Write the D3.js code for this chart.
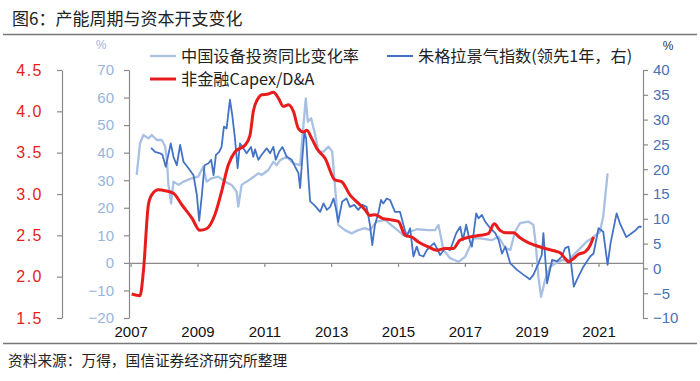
<!DOCTYPE html>
<html><head><meta charset="utf-8">
<script src="https://cdn.jsdelivr.net/npm/d3@7/dist/d3.min.js"></script>
<style>
html,body{margin:0;padding:0;background:#fff;}
svg{display:block;}
</style></head>
<body><svg id="c" width="700" height="381"></svg>
<script>
// ---------------- data ----------------
const yearTicks = [2007, 2009, 2011, 2013, 2015, 2017, 2019, 2021];
const leftTicks = [1.5, 2.0, 2.5, 3.0, 3.5, 4.0, 4.5];
const midTicks = [-20, -10, 0, 10, 20, 30, 40, 50, 60, 70];
const rightTicks = [-10, -5, 0, 5, 10, 15, 20, 25, 30, 35, 40];

// 非金融Capex/D&A (left axis)
const capexDates = [2007.03,2007.28,2007.38,2007.53,2007.63,2007.83,2008.03,2008.28,2008.53,2008.83,2009.07,2009.27,2009.52,2009.72,2009.92,2010.12,2010.42,2010.57,2010.67,2010.82,2010.92,2011.12,2011.27,2011.42,2011.57,2011.72,2011.87,2012.02,2012.17,2012.27,2012.42,2012.57,2012.82,2013.11,2013.31,2013.56,2013.81,2014.01,2014.16,2014.31,2014.56,2014.76,2015.01,2015.21,2015.41,2015.61,2015.91,2016.16,2016.41,2016.65,2016.85,2017.15,2017.45,2017.70,2017.88,2018.05,2018.25,2018.45,2018.65,2018.85,2019.10,2019.40,2019.70,2019.85,2020.00,2020.10,2020.25,2020.40,2020.60,2020.75,2020.85];
const capexValues = [1.79,1.77,2.06,2.87,2.99,3.05,3.04,3.01,2.87,2.71,2.56,2.58,2.75,3.03,3.35,3.51,3.59,3.71,4.00,4.16,4.20,4.21,4.23,4.16,4.06,4.08,4.00,3.79,3.75,3.77,3.67,3.55,3.43,3.17,3.15,2.99,2.89,2.81,2.74,2.75,2.70,2.69,2.67,2.50,2.48,2.42,2.36,2.32,2.34,2.34,2.44,2.48,2.50,2.52,2.64,2.56,2.53,2.53,2.47,2.42,2.38,2.34,2.31,2.29,2.22,2.18,2.22,2.27,2.30,2.38,2.48];

// 中国设备投资同比变化率 (middle axis, %)
const equipDates = [2007.18,2007.28,2007.38,2007.53,2007.63,2007.78,2007.93,2008.03,2008.08,2008.13,2008.21,2008.28,2008.43,2008.58,2008.83,2009.02,2009.17,2009.27,2009.42,2009.62,2009.82,2010.02,2010.17,2010.22,2010.32,2010.47,2010.62,2010.82,2010.92,2011.12,2011.27,2011.37,2011.47,2011.67,2011.87,2012.07,2012.17,2012.24,2012.30,2012.40,2012.52,2012.62,2012.77,2012.92,2013.03,2013.11,2013.21,2013.41,2013.61,2013.81,2014.01,2014.16,2014.36,2014.61,2014.91,2015.16,2015.36,2015.56,2015.91,2016.11,2016.21,2016.36,2016.56,2016.81,2017.01,2017.26,2017.46,2017.81,2018.01,2018.21,2018.36,2018.50,2018.65,2018.90,2019.05,2019.12,2019.20,2019.28,2019.40,2019.55,2019.70,2019.90,2020.10,2020.30,2020.50,2020.64,2020.84,2021.04,2021.14,2021.27];
const equipValues = [31.9,43.4,46.4,45.2,46.4,44.6,44.6,42.2,38.0,28.3,21.6,29.5,28.3,29.5,30.7,31.3,34.9,29.5,30.7,31.3,29.5,28.3,25.8,20.4,28.3,29.5,30.7,32.5,31.9,33.7,36.7,35.5,37.3,38.5,36.1,35.5,50.0,59.7,51.2,52.5,46.4,40.4,40.4,42.2,40.4,28.3,13.8,11.9,10.7,11.9,12.6,11.9,15.0,15.6,12.6,10.1,11.3,12.2,11.9,11.9,13.8,4.7,1.7,0.4,2.3,8.9,8.9,8.3,9.5,5.3,4.7,11.3,14.4,15.0,13.8,7.1,-5.0,-12.3,-6.2,-1.4,-0.2,1.0,1.0,3.5,5.9,7.7,9.3,11.3,16.8,32.5];

// 朱格拉景气指数(领先1年) (right axis, %)
const juglarDates = [2007.61,2007.73,2007.88,2007.95,2008.05,2008.20,2008.28,2008.38,2008.48,2008.58,2008.73,2008.88,2008.98,2009.05,2009.13,2009.21,2009.33,2009.41,2009.48,2009.55,2009.65,2009.72,2009.79,2009.87,2009.97,2010.04,2010.12,2010.20,2010.27,2010.37,2010.47,2010.60,2010.67,2010.72,2010.82,2010.92,2011.07,2011.17,2011.27,2011.34,2011.44,2011.54,2011.67,2011.82,2011.92,2012.02,2012.07,2012.12,2012.20,2012.25,2012.32,2012.37,2012.52,2012.67,2012.77,2012.87,2012.97,2013.07,2013.14,2013.21,2013.33,2013.46,2013.56,2013.69,2013.81,2013.93,2014.06,2014.16,2014.23,2014.31,2014.41,2014.49,2014.56,2014.66,2014.76,2014.91,2015.06,2015.16,2015.26,2015.36,2015.46,2015.56,2015.64,2015.76,2015.86,2015.96,2016.08,2016.16,2016.26,2016.41,2016.56,2016.74,2016.86,2016.94,2017.04,2017.14,2017.21,2017.34,2017.41,2017.51,2017.61,2017.76,2017.91,2018.01,2018.11,2018.21,2018.36,2018.56,2018.76,2018.94,2019.05,2019.20,2019.30,2019.35,2019.46,2019.61,2019.76,2019.90,2020.00,2020.10,2020.17,2020.26,2020.35,2020.55,2020.75,2020.85,2021.00,2021.14,2021.27,2021.36,2021.54,2021.64,2021.83,2021.99,2022.11,2022.21,2022.29];
const juglarValues = [24.3,23.5,23.2,22.9,20.5,25.2,22.5,20.8,24.9,21.5,20.2,18.8,14.8,9.6,14.8,20.8,21.2,21.9,18.8,22.9,23.5,24.5,28.6,28.2,34.0,30.9,26.2,20.2,25.2,24.2,23.2,24.5,22.5,24.0,21.9,22.9,24.2,23.2,24.5,21.9,23.5,24.5,22.5,21.9,20.5,19.2,16.2,20.8,27.6,26.2,18.2,13.5,12.6,11.4,13.1,11.8,12.4,14.1,12.1,9.4,13.5,14.1,12.4,12.8,11.8,12.8,12.4,8.8,4.7,8.8,11.1,13.8,13.1,14.1,13.8,11.4,11.4,8.8,6.4,8.1,2.4,4.4,2.7,2.4,3.7,4.4,5.1,4.1,2.7,4.1,3.7,7.1,8.4,5.7,8.8,5.7,4.4,11.1,10.1,10.8,9.4,8.1,7.1,5.7,3.0,4.4,1.0,-0.3,-1.3,-2.2,-1.3,1.0,2.7,7.1,-3.0,1.7,1.4,2.4,4.1,4.4,1.5,-3.7,-2.3,0.4,2.4,3.0,8.1,7.4,0.7,5.1,11.1,9.1,6.3,7.1,7.7,8.4,8.4];

const legendLabels = ["中国设备投资同比变化率", "朱格拉景气指数(领先1年，右)", "非金融Capex/D&A"];

// ---------------- layout ----------------
const svg = d3.select("#c");
const plotL = 129, plotR = 643, plotT = 70, plotB = 318;
const cRed = "#e81c1c", cLight = "#a8c0e4", cBlue = "#4472c4", cAxis = "#8a8a8a";
const cMidTxt = "#9ab4db", cRightTxt = "#4a70b5";
const numFont = "'Liberation Sans', Arial, sans-serif";
const cjkFont = "'Noto Sans CJK SC', 'Noto Sans', sans-serif";

const x = d3.scaleLinear().domain([2006.95, 2022.33]).range([plotL, plotR]);
const yL = d3.scaleLinear().domain([1.5, 4.5]).range([plotB, plotT]);
const yM = d3.scaleLinear().domain([-20, 70]).range([plotB, plotT]);
const yR = d3.scaleLinear().domain([-10, 40]).range([plotB, plotT]);

// title & frame lines
svg.append("text").attr("x", 12).attr("y", 25).attr("font-family", cjkFont)
  .attr("font-size", 17).attr("fill", "#222").text("图6：产能周期与资本开支变化");
svg.append("line").attr("x1", 3).attr("x2", 697).attr("y1", 34.5).attr("y2", 34.5)
  .attr("stroke", "#777").attr("stroke-width", 1.5);
svg.append("line").attr("x1", 3).attr("x2", 697).attr("y1", 343.5).attr("y2", 343.5)
  .attr("stroke", "#777").attr("stroke-width", 1.5);
svg.append("text").attr("x", 8).attr("y", 366).attr("font-family", cjkFont)
  .attr("font-size", 14.7).attr("fill", "#222").text("资料来源：万得，国信证券经济研究所整理");

function styleAxis(g, color, size, font) {
  g.selectAll(".domain").attr("stroke", cAxis).attr("stroke-width", 1.2);
  g.selectAll(".tick line").attr("stroke", cAxis).attr("stroke-width", 1.2);
  g.selectAll(".tick text").attr("fill", color).attr("font-size", size).attr("font-family", font);
}

// left red axis
const gL = svg.append("g").attr("transform", "translate(62,0)")
  .call(d3.axisLeft(yL).tickValues(leftTicks).tickFormat(d3.format(".1f")).tickSize(5).tickSizeOuter(0).tickPadding(14));
styleAxis(gL, cRed, 16, numFont);
gL.selectAll(".tick text").attr("letter-spacing", 1.5);

// middle axis
const gM = svg.append("g").attr("transform", `translate(${plotL},0)`)
  .call(d3.axisLeft(yM).tickValues(midTicks).tickSize(5).tickSizeOuter(0).tickPadding(10));
styleAxis(gM, cMidTxt, 15, numFont);
svg.append("text").attr("x", 101).attr("y", 49).attr("text-anchor", "middle")
  .attr("font-family", numFont).attr("font-size", 12).attr("fill", cMidTxt).text("%");

// right axis
const gR = svg.append("g").attr("transform", `translate(${plotR},0)`)
  .call(d3.axisRight(yR).tickValues(rightTicks).tickSize(5).tickSizeOuter(0).tickPadding(5));
styleAxis(gR, cRightTxt, 15, numFont);
svg.append("text").attr("x", 668).attr("y", 50).attr("text-anchor", "middle")
  .attr("font-family", numFont).attr("font-size", 12).attr("fill", "#333").text("%");

// zero line with year ticks
const gZ = svg.append("g").attr("transform", `translate(0,${yM(0)})`)
  .call(d3.axisBottom(x).tickValues(yearTicks).tickFormat("").tickSize(4).tickSizeOuter(0));
styleAxis(gZ, "#000", 14, numFont);

// year labels
const gY = svg.append("g").attr("transform", `translate(0,${plotB})`)
  .call(d3.axisBottom(x).tickValues(yearTicks).tickFormat(d3.format("d")).tickSize(0).tickPadding(8));
gY.select(".domain").remove();
gY.selectAll(".tick text").attr("fill", "#111").attr("font-size", 15).attr("font-family", numFont);

// lines
const mk = (ys) => d3.line().x(d => x(d[0])).y(d => ys(d[1]));
const equip = equipDates.map((d, i) => [d, equipValues[i]]);
const juglar = juglarDates.map((d, i) => [d, juglarValues[i]]);
const capex = capexDates.map((d, i) => [d, capexValues[i]]);

svg.append("path").datum(equip).attr("d", mk(yM)).attr("fill", "none")
  .attr("stroke", cLight).attr("stroke-width", 2.3).attr("stroke-linejoin", "round");
svg.append("path").datum(juglar).attr("d", mk(yR)).attr("fill", "none")
  .attr("stroke", cBlue).attr("stroke-width", 1.8).attr("stroke-linejoin", "round");
svg.append("path").datum(capex).attr("d", mk(yL).curve(d3.curveMonotoneX)).attr("fill", "none")
  .attr("stroke", cRed).attr("stroke-width", 3).attr("stroke-linejoin", "round");

// legend
const legend = [
  {label: legendLabels[0], color: cLight, w: 2.2, x: 150, y: 56},
  {label: legendLabels[1], color: cBlue, w: 2, x: 387, y: 56},
  {label: legendLabels[2], color: cRed, w: 3, x: 150, y: 79}
];
legend.forEach(l => {
  svg.append("line").attr("x1", l.x).attr("x2", l.x + 26).attr("y1", l.y).attr("y2", l.y)
    .attr("stroke", l.color).attr("stroke-width", l.w);
  svg.append("text").attr("x", l.x + 31).attr("y", l.y + 5.5).attr("font-family", cjkFont)
    .attr("font-size", 16.2).attr("fill", "#222").text(l.label);
});
</script>
</body></html>
